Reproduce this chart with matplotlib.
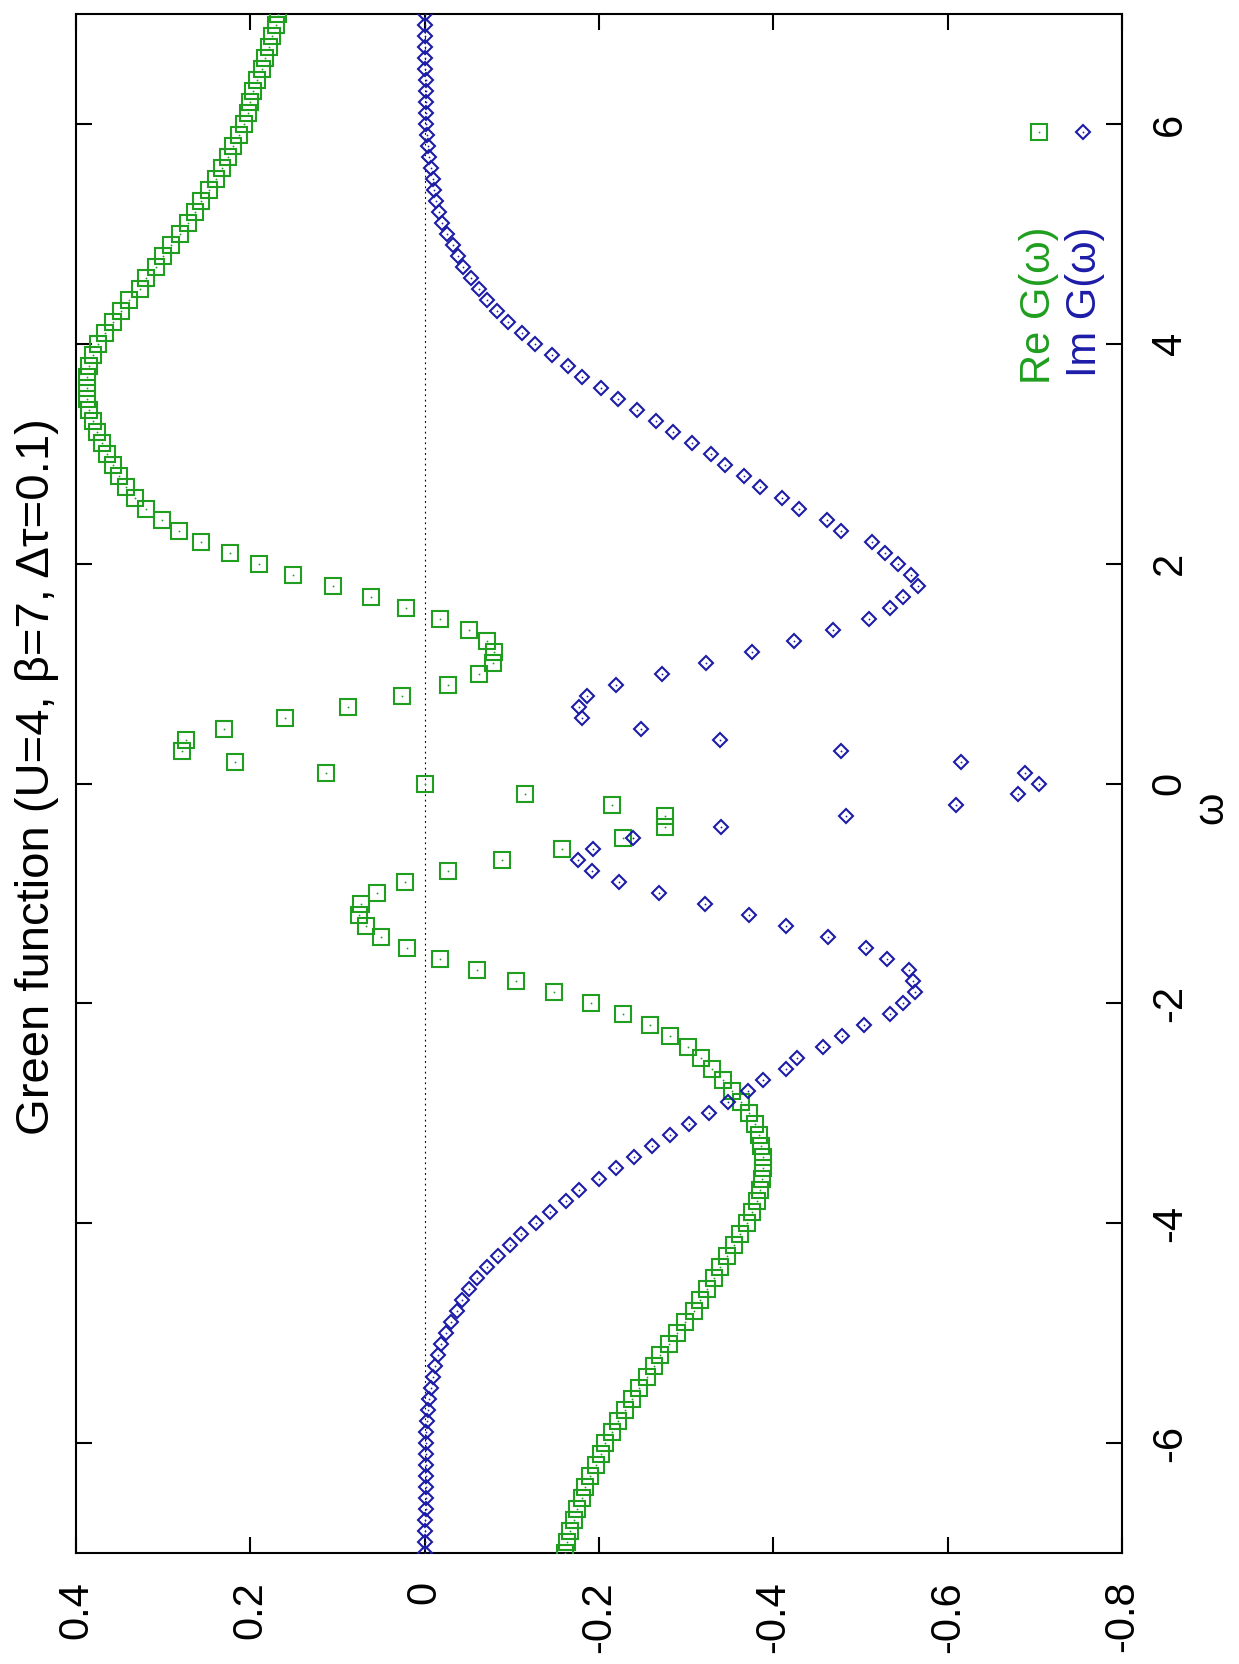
import numpy as np
import matplotlib
matplotlib.use("Agg")
import matplotlib.pyplot as plt

plt.rcParams["font.family"] = ["Liberation Sans", "DejaVu Sans"]

# Frequency grid (step 0.1) and the two components of G(omega)
omega = np.round(np.arange(-70, 71) / 10.0, 1)

re_g = [
    -0.161, -0.163, -0.167, -0.171, -0.175, -0.180, -0.184, -0.190, -0.196, -0.202,
    -0.207, -0.215, -0.222, -0.230, -0.238, -0.246, -0.255, -0.263, -0.270, -0.280,
    -0.290, -0.299, -0.309, -0.316, -0.324, -0.332, -0.339, -0.347, -0.355, -0.362,
    -0.370, -0.376, -0.381, -0.385, -0.387, -0.388, -0.388, -0.386, -0.383, -0.379,
    -0.372, -0.363, -0.353, -0.342, -0.330, -0.317, -0.302, -0.282, -0.259, -0.228,
    -0.191, -0.148, -0.105, -0.060, -0.018, 0.020, 0.050, 0.067, 0.075, 0.073,
    0.055, 0.022, -0.027, -0.089, -0.158, -0.227, -0.276, -0.276, -0.215, -0.115,
    0.000,
    0.113, 0.218, 0.278, 0.274, 0.230, 0.160, 0.088, 0.026, -0.027, -0.062,
    -0.078, -0.080, -0.071, -0.051, -0.018, 0.021, 0.061, 0.105, 0.151, 0.190,
    0.223, 0.257, 0.282, 0.301, 0.320, 0.332, 0.343, 0.351, 0.358, 0.364,
    0.370, 0.376, 0.381, 0.385, 0.387, 0.387, 0.387, 0.385, 0.381, 0.375,
    0.367, 0.358, 0.348, 0.339, 0.327, 0.320, 0.308, 0.300, 0.291, 0.281,
    0.272, 0.264, 0.257, 0.247, 0.239, 0.232, 0.226, 0.220, 0.213, 0.207,
    0.203, 0.200, 0.197, 0.192, 0.187, 0.183, 0.179, 0.175, 0.171, 0.168,
]

im_g = [
    0.000, 0.000, 0.000, 0.000, -0.001, -0.001, -0.001, -0.001, -0.001, -0.002,
    -0.002, -0.002, -0.003, -0.004, -0.005, -0.007, -0.009, -0.012, -0.015, -0.019,
    -0.024, -0.030, -0.037, -0.043, -0.051, -0.060, -0.071, -0.084, -0.098, -0.111,
    -0.128, -0.144, -0.162, -0.177, -0.200, -0.219, -0.240, -0.261, -0.282, -0.303,
    -0.326, -0.348, -0.371, -0.388, -0.414, -0.427, -0.457, -0.479, -0.504, -0.534,
    -0.549, -0.562, -0.560, -0.556, -0.530, -0.506, -0.463, -0.415, -0.372, -0.322,
    -0.269, -0.223, -0.192, -0.176, -0.193, -0.239, -0.340, -0.483, -0.609, -0.681,
    -0.705,
    -0.689, -0.615, -0.478, -0.339, -0.248, -0.181, -0.177, -0.186, -0.219, -0.272,
    -0.323, -0.375, -0.424, -0.469, -0.510, -0.534, -0.549, -0.566, -0.558, -0.543,
    -0.528, -0.513, -0.478, -0.462, -0.429, -0.410, -0.385, -0.366, -0.345, -0.328,
    -0.307, -0.285, -0.265, -0.244, -0.222, -0.202, -0.181, -0.164, -0.146, -0.127,
    -0.112, -0.096, -0.083, -0.072, -0.062, -0.053, -0.044, -0.038, -0.032, -0.026,
    -0.020, -0.016, -0.013, -0.011, -0.009, -0.007, -0.005, -0.004, -0.003, -0.002,
    -0.001, -0.001, -0.001, -0.001, 0.000, 0.000, 0.000, 0.000, 0.000, 0.000,
]

g_ticks = [0.4, 0.2, 0.0, -0.2, -0.4, -0.6, -0.8]
g_labels = ["0.4", "0.2", "0", "-0.2", "-0.4", "-0.6", "-0.8"]
w_ticks = [-6, -4, -2, 0, 2, 4, 6]
w_labels = ["-6", "-4", "-2", "0", "2", "4", "6"]

title = "Green function (U=4, \u03b2=7, \u0394\u03c4=0.1)"
re_label = "Re G(\u03c9)"
im_label = "Im G(\u03c9)"

GREEN = "#1f9e1f"
BLUE = "#1c1ca8"

W, H = 1239, 1664
fig = plt.figure(figsize=(W / 100, H / 100), dpi=100)
fig.patch.set_facecolor("white")
ax = fig.add_axes([76 / W, 1 - 1553 / H, (1122 - 76) / W, (1553 - 14) / H])

# Page is printed in landscape: G values run horizontally (decreasing),
# frequency runs vertically.
ax.axvline(0.0, color="black", lw=0.8, linestyle=(0, (1.6, 3.2)), zorder=1)

ax.plot(re_g, omega, linestyle="none", marker="s", ms=11, mew=1.5,
        mfc="none", mec=GREEN, zorder=3)
ax.plot(re_g, omega, linestyle="none", marker="o", ms=1.3, mew=0,
        mfc=GREEN, zorder=3)
ax.plot(im_g, omega, linestyle="none", marker="D", ms=7.6, mew=1.5,
        mfc="none", mec=BLUE, zorder=3)
ax.plot(im_g, omega, linestyle="none", marker="o", ms=1.3, mew=0,
        mfc=BLUE, zorder=3)

ax.set_xlim(0.4, -0.8)
ax.set_ylim(-7, 7)

ax.set_xticks(g_ticks)
ax.set_xticklabels(g_labels)
ax.set_yticks(w_ticks)
ax.set_yticklabels(w_labels)

ax.tick_params(direction="in", length=11.5, width=1.5, top=True, bottom=True,
               left=True, right=True, labelleft=False, labelright=True,
               labeltop=False, labelbottom=True, labelsize=30)
ax.tick_params(axis="x", pad=20)
ax.tick_params(axis="y", pad=20)
for lab in ax.get_xticklabels():
    lab.set_rotation(90)
    lab.set_va("top")
    lab.set_ha("center")
for lab in ax.get_yticklabels():
    lab.set_rotation(90)
    lab.set_va("center")
    lab.set_ha("left")

for sp in ax.spines.values():
    sp.set_linewidth(1.5)

# Frequency axis label, to the right of the tick labels
fig.text(1211 / W, 1 - 808 / H, "\u03c9", rotation=90, fontsize=30,
         ha="center", va="center")

# Title along the left edge
fig.text(37 / W, 1 - 777 / H, title, rotation=90, fontsize=34,
         ha="center", va="center")

# Key in the upper right corner (rotated)
ax.text(0.9207, 0.8616, re_label, transform=ax.transAxes, rotation=90,
        rotation_mode="anchor", ha="right", va="center", fontsize=30,
        color=GREEN)
ax.text(0.9646, 0.8616, im_label, transform=ax.transAxes, rotation=90,
        rotation_mode="anchor", ha="right", va="center", fontsize=30,
        color=BLUE)
ax.plot([0.9207], [0.9233], transform=ax.transAxes, marker="s", ms=11,
        mew=1.5, mfc="none", mec=GREEN, linestyle="none", clip_on=False)
ax.plot([0.9207], [0.9233], transform=ax.transAxes, marker="o", ms=1.3,
        mew=0, mfc=GREEN, linestyle="none", clip_on=False)
ax.plot([0.9627], [0.9233], transform=ax.transAxes, marker="D", ms=7.6,
        mew=1.5, mfc="none", mec=BLUE, linestyle="none", clip_on=False)
ax.plot([0.9627], [0.9233], transform=ax.transAxes, marker="o", ms=1.3,
        mew=0, mfc=BLUE, linestyle="none", clip_on=False)

fig.savefig("out.png", dpi=100, facecolor="white")
